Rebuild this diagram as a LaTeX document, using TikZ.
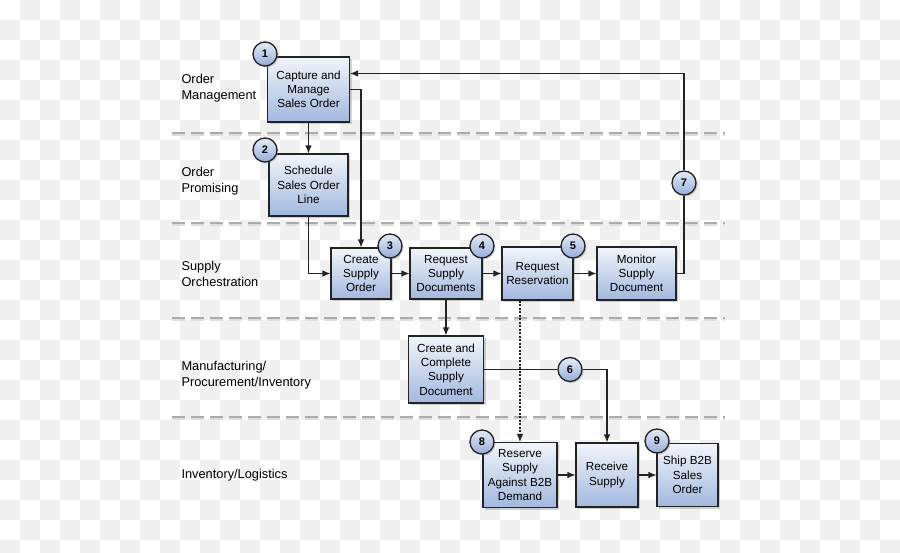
\documentclass[tikz,border=0pt]{standalone}
\usepackage{fontspec}
\setmainfont{Liberation Sans}
\usetikzlibrary{arrows.meta, shadows}
\definecolor{boxtop}{RGB}{242,245,251}
\definecolor{boxbot}{RGB}{162,184,222}
\definecolor{dottop}{RGB}{228,235,247}
\definecolor{dotbot}{RGB}{150,173,216}
\definecolor{checkgray}{RGB}{240,240,240}
\definecolor{lanegray}{RGB}{172,172,172}
\definecolor{edgegray}{RGB}{35,35,35}

\begin{document}
\begin{tikzpicture}[x=1pt, y=-1pt,
    stepbox/.style={draw=edgegray, line width=1.1pt, top color=boxtop, bottom color=boxbot,
        align=center, inner sep=0pt, font=\fontsize{11.7}{14.3}\selectfont,
        drop shadow={shadow xshift=2pt, shadow yshift=-2pt, opacity=0.35}},
    numdot/.style={circle, draw=edgegray, line width=1.3pt, top color=dottop, bottom color=dotbot,
        minimum size=24pt, inner sep=0pt, font=\fontsize{11}{11}\bfseries\selectfont,
        drop shadow={shadow xshift=1.5pt, shadow yshift=-1.5pt, opacity=0.35}},
    lane/.style={anchor=west, align=left, font=\fontsize{12.8}{16}\selectfont},
    flow/.style={draw=edgegray, line width=1.1pt, -{Latex[length=8pt,width=6.5pt]}},
    link/.style={draw=edgegray, line width=1.1pt}]
    \useasboundingbox (0,0) rectangle (900,552);
    % 背景方格
    \begin{scope}
        \clip (0,0) rectangle (900,552);
        \fill[white] (0,0) rectangle (900,552);
        \foreach \j in {0,...,27}{
            \pgfmathtruncatemacro\s{mod(\j+1,2)}
            \foreach \i in {0,2,...,44}
                \fill[checkgray] ({20*(\i+\s)},{20*\j}) rectangle +(20,20);
        }
    \end{scope}
    % 泳道分隔线
    \foreach \y in {133,223,318,417}{
        \draw[lanegray!40, line width=1.1pt, dash pattern=on 13pt off 6pt] (172,\y+2) -- (725,\y+2);
        \draw[lanegray, line width=1.1pt, dash pattern=on 13pt off 6pt] (172,\y) -- (725,\y);
    }
    % 泳道名称
    \node[lane] (lom) at (178,88) {Order\\Management};
    \node[lane] (lop) at (178,181) {Order\\Promising};
    \node[lane] (lso) at (178,274) {Supply\\Orchestration};
    \node[lane] (lmp) at (178,375) {Manufacturing/\\Procurement/Inventory};
    \node[lane] (lil) at (178,475) {Inventory/Logistics};

    % 步骤框
    \node[stepbox, minimum width=82pt, minimum height=65pt] (capture) at (308.5,89.5) {Capture and\\Manage\\Sales Order};
    \node[stepbox, minimum width=79pt, minimum height=62pt] (schedule) at (308.5,185) {Schedule\\Sales Order\\Line};
    \node[stepbox, minimum width=60pt, minimum height=51pt] (createso) at (361,273.5) {Create\\Supply\\Order};
    \node[stepbox, minimum width=72pt, minimum height=51pt] (reqdocs) at (446,273.5) {Request\\Supply\\Documents};
    \node[stepbox, minimum width=71pt, minimum height=53pt] (reqres) at (537.5,273.5) {Request\\Reservation};
    \node[stepbox, minimum width=79pt, minimum height=53pt] (monitor) at (636.5,273.5) {Monitor\\Supply\\Document};
    \node[stepbox, minimum width=75pt, minimum height=67pt] (createdoc) at (446,369.5) {Create and\\Complete\\Supply\\Document};
    \node[stepbox, minimum width=74pt, minimum height=65pt] (reserve) at (520,475) {Reserve\\Supply\\Against B2B\\Demand};
    \node[stepbox, minimum width=62pt, minimum height=64pt] (receive) at (607,475) {Receive\\Supply};
    \node[stepbox, minimum width=61pt, minimum height=63pt] (ship) at (687.5,475) {Ship B2B\\Sales\\Order};

    % 编号圆
    \node[numdot] (n1) at (265,54) {1};
    \node[numdot] (n2) at (265,150) {2};
    \node[numdot] (n3) at (390,246) {3};
    \node[numdot] (n4) at (482,246) {4};
    \node[numdot] (n5) at (573,246) {5};
    \node[numdot] (n6) at (570,369.5) {6};
    \node[numdot] (n7) at (684,183) {7};
    \node[numdot] (n8) at (482,442) {8};
    \node[numdot] (n9) at (657,441) {9};

    % 流程箭头
    \draw[flow] (capture) -- (schedule);
    \draw[flow] (capture.east) -| (createso.north);
    \draw[flow] (schedule.south) |- (createso.west);
    \draw[flow] (createso) -- (reqdocs);
    \draw[flow] (reqdocs) -- (reqres);
    \draw[flow] (reqres) -- (monitor);
    \draw[link] (monitor.east) -| (n7.south);
    \draw[flow] (n7.north) |- ([yshift=16pt]capture.east);
    \draw[flow] (reqdocs) -- (createdoc);
    \draw[link] (createdoc) -- (n6);
    \draw[flow] (n6) -| (receive);
    \draw[flow, dash pattern=on 2pt off 1.5pt] (reserve.north |- reqres.south) -- (reserve.north);
    \draw[flow] (reserve) -- (receive);
    \draw[flow] (receive) -- (ship);
\end{tikzpicture}
\end{document}
